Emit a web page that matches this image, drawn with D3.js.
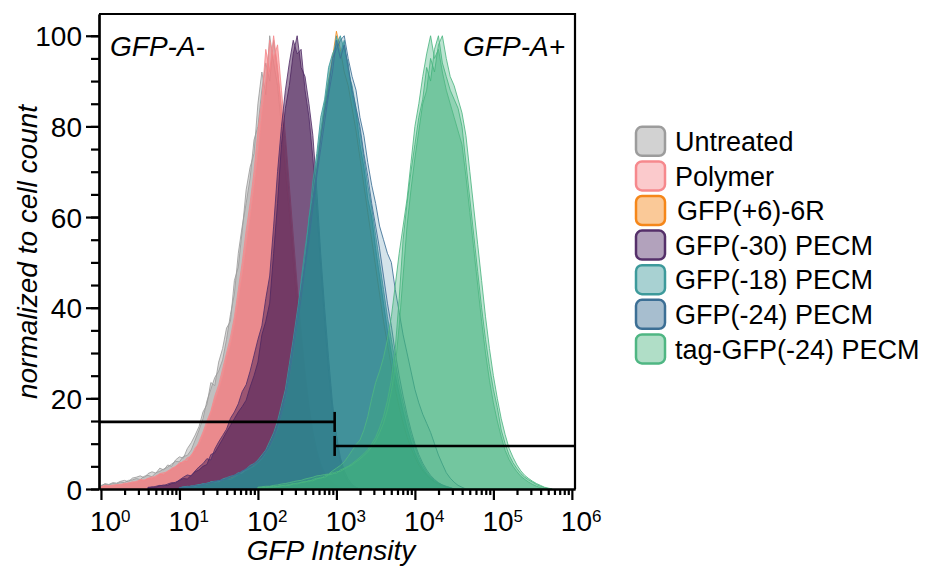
<!DOCTYPE html>
<html><head><meta charset="utf-8">
<script src="https://cdn.jsdelivr.net/npm/d3@7"></script>
<style>
body{margin:0;background:#fff}
text{font-family:"Liberation Sans",Arial,Helvetica,sans-serif;fill:#000}
</style>
</head><body>
<svg id="chart" width="935" height="569"></svg>
<script>
// ---------------- DATA ----------------
const binStep = 0.05; // histogram bin width in log10 units
const categories = ["Untreated","Polymer","GFP(+6)-6R","GFP(-30) PECM","GFP(-18) PECM","GFP(-24) PECM","tag-GFP(-24) PECM"];
const yTicks = [0,20,40,60,80,100];
const xDecades = [0,1,2,3,4,5,6];
const gateLabels = ["GFP-A-","GFP-A+"];
const gateBoundary = 950;
const gateNegLevel = 14.8;
const gatePosLevel = 9.5;

// first bin (log10) for each condition
const untreatedStart = 0.00, polymerStart = 0.00, gfp30Start = 0.60, gfp6Start = 1.00, gfp18Start = 1.00, gfp24Start = 1.00, tagStart = 2.00;

const untreatedA = [0.8,1.0,0.9,1.2,1.1,1.5,1.4,1.9,2.0,2.3,2.1,2.8,3.0,2.7,3.6,3.9,4.4,4.8,5.5,6.1,6.0,7.2,7.4,8.6,10.8,13.0,15.5,19.4,22.0,24.6,26.0,28.5,33.0,38.5,43.0,52.0,58.0,63.0,68.5,77.0,80.0,88.0,94.0,90.0,99.0,92.0,84.0,76.0,64.0,53.0,43.0,34.0,25.0,18.0,12.5,8.5,5.5,3.5,2.2,1.3,0.7,0.3,0];
const untreatedB = [0.6,1.2,1.0,1.4,1.3,1.7,1.9,1.6,2.4,2.6,2.9,2.5,3.4,3.8,3.5,4.6,4.2,5.3,5.0,6.4,7.1,6.8,8.9,10.2,11.9,13.8,17.0,18.6,23.5,22.8,28.0,31.0,35.5,37.0,46.0,49.0,57.0,66.0,71.0,74.0,85.0,92.0,87.0,100.0,94.0,89.0,80.0,70.0,61.0,50.0,40.0,31.0,23.0,16.0,11.0,7.5,4.8,3.0,1.8,1.0,0.5,0.2,0];
const polymerA = [0.5,0.7,0.6,0.9,0.8,1.1,1.0,1.4,1.3,1.7,1.9,1.8,2.4,2.2,2.9,3.3,3.1,4.0,4.3,5.0,5.4,6.2,6.0,7.6,8.4,10.5,12.6,15.0,17.2,20.5,23.0,26.5,30.0,33.5,38.0,44.0,50.0,57.0,63.0,70.0,79.0,86.0,97.0,92.0,100.0,93.0,83.0,72.0,62.0,52.0,42.0,32.0,23.5,16.5,11.0,7.0,4.3,2.6,1.5,0.8,0.4,0];
const polymerB = [0.4,0.8,0.7,0.7,1.0,0.9,1.3,1.2,1.6,1.5,2.1,2.0,2.3,2.7,2.6,3.4,3.6,3.8,4.6,4.9,5.8,5.9,6.9,7.2,9.1,10.0,12.0,14.2,16.8,19.5,22.0,25.0,29.0,32.0,36.5,42.0,47.5,54.0,60.0,67.0,74.0,83.0,90.0,99.0,95.0,98.0,88.0,78.0,67.0,56.0,45.0,35.0,26.0,18.5,12.5,8.0,5.0,3.0,1.7,0.9,0.4,0];
const gfp30A = [0.3,0.5,0.4,0.7,0.9,0.8,1.2,1.5,1.9,2.3,2.2,3.0,3.8,4.2,5.0,5.4,7.6,8.0,9.5,11.0,12.6,14.0,15.5,17.0,18.2,19.6,22.5,25.0,28.0,34.0,37.0,41.0,52.0,63.0,76.0,84.0,89.0,96.0,100.0,93.0,91.0,85.0,78.0,66.0,52.0,40.0,29.0,19.0,12.0,7.0,4.0,2.2,1.0,0.4,0];
const gfp30B = [0.4,0.3,0.6,0.8,0.7,1.1,1.4,1.3,2.0,2.6,3.1,2.9,4.0,4.9,5.6,6.7,6.4,8.8,10.4,11.8,13.2,15.6,17.0,18.8,21.5,23.0,26.0,29.5,33.0,36.0,42.0,47.0,58.0,70.0,80.0,88.0,94.0,99.0,96.0,97.0,88.0,82.0,73.0,62.0,49.0,37.0,26.0,17.0,10.5,6.0,3.2,1.6,0.7,0.3,0];
const gfp6R = [0.2,0.3,0.5,0.5,0.7,0.8,1.0,1.1,1.3,1.5,1.7,1.9,2.2,2.5,2.8,3.2,3.7,4.2,4.7,5.3,6.0,6.8,7.9,9.2,11.0,13.4,16.5,20.0,25.0,30.0,36.0,43.0,50.0,57.0,64.0,71.0,78.0,84.0,90.0,95.0,101.0,97.0,92.0,89.0,84.0,79.0,73.0,67.0,61.0,55.0,49.0,43.0,37.0,32.0,27.0,22.0,18.0,14.5,11.5,9.0,7.0,5.3,4.0,3.0,2.2,1.5,1.0,0.6,0.3,0];
const gfp18A = [0.3,0.4,0.6,0.5,0.8,1.0,0.9,1.3,1.5,1.4,1.8,2.0,2.3,2.1,2.6,3.2,3.9,4.1,4.6,5.0,5.8,6.6,8.0,9.5,11.6,13.2,17.0,20.0,26.0,31.0,37.0,46.0,53.0,59.0,68.0,74.0,82.0,86.0,93.0,96.0,98.0,100.0,97.0,94.0,87.0,83.0,76.0,71.0,64.0,60.0,53.0,47.0,41.0,35.0,30.0,25.0,21.0,17.0,13.5,10.5,8.0,6.0,4.5,3.3,2.4,1.7,1.2,0.8,0.5,0.3,0];
const gfp18B = [0.2,0.5,0.4,0.7,0.6,0.9,1.2,1.1,1.6,1.7,1.6,2.2,2.5,2.8,3.0,3.6,3.5,4.4,5.2,5.6,6.4,7.5,8.6,10.5,12.4,15.0,18.5,22.0,27.5,33.0,39.0,45.0,51.0,60.0,65.0,72.0,79.0,85.0,90.0,94.0,100.0,96.0,99.0,92.0,89.0,84.0,79.0,73.0,67.0,62.0,56.0,50.0,44.0,38.0,33.0,28.0,23.0,19.0,15.5,12.0,9.5,7.0,5.2,3.8,2.7,1.9,1.3,0.9,0.6,0.3,0];
const gfp24A = [0.3,0.3,0.5,0.6,0.8,0.7,1.1,1.2,1.4,1.7,1.9,1.8,2.4,2.7,2.9,3.4,4.0,4.3,4.9,5.5,6.2,7.0,8.4,9.8,11.8,14.2,17.5,21.0,26.5,32.0,38.0,44.0,50.0,57.0,64.0,70.0,77.0,83.0,88.0,95.0,97.0,99.0,100.0,95.0,91.0,88.0,82.0,78.0,72.0,67.0,63.0,58.0,55.0,52.0,50.0,44.0,39.0,34.0,30.0,26.0,22.0,19.0,16.5,14.5,12.5,10.0,7.5,5.5,3.6,2.4,1.5,0.8,0.4,0];
const gfp24B = [0.2,0.4,0.4,0.5,0.7,0.9,0.8,1.2,1.3,1.6,1.8,2.1,2.2,2.6,3.1,3.3,3.8,4.5,4.8,5.4,6.0,6.9,8.1,9.4,11.2,13.6,16.5,20.0,25.0,30.5,36.0,42.0,49.0,55.0,62.0,69.0,75.0,81.0,87.0,92.0,99.0,95.0,98.0,93.0,88.0,84.0,80.0,74.0,69.0,63.0,58.0,53.0,47.0,41.0,36.0,30.0,25.0,20.5,16.5,13.0,10.0,7.6,5.7,4.2,3.0,2.1,1.4,0.9,0.5,0.3,0];
const tagA = [0.2,0.3,0.3,0.5,0.4,0.6,0.8,0.7,1.0,1.2,1.1,1.5,1.7,1.6,2.1,2.4,2.3,2.9,3.2,3.6,3.4,4.2,4.6,5.0,5.6,6.3,7.0,7.8,8.7,10.0,11.4,13.5,16.0,19.5,24.0,31.0,42.0,55.0,63.0,70.0,76.0,82.0,86.0,93.0,90.0,97.0,100.0,94.0,91.0,88.0,86.0,84.0,80.0,72.0,64.0,56.0,48.0,40.0,33.0,27.0,22.0,18.0,13.0,10.0,7.5,5.8,4.5,3.4,2.6,2.0,1.5,1.0,0.6,0.3,0];
const tagB = [0.3,0.2,0.4,0.4,0.6,0.5,0.7,0.9,0.8,1.1,1.3,1.4,1.5,1.9,1.8,2.2,2.6,2.5,3.1,3.3,3.8,3.9,4.4,4.9,5.3,6.0,6.6,7.4,8.2,9.3,10.6,12.4,14.5,17.5,21.5,27.0,36.0,47.0,58.0,66.0,73.0,79.0,85.0,88.0,95.0,92.0,98.0,100.0,95.0,91.0,89.0,86.0,83.0,78.0,70.0,62.0,54.0,46.0,38.0,31.0,25.0,20.0,15.5,12.0,9.0,7.0,5.3,4.0,3.0,2.3,1.7,1.2,0.8,0.4,0.2,0];
const tagC = [0.4,0.5,0.6,0.6,0.8,0.9,1.1,1.2,1.4,1.6,1.8,1.9,2.2,2.4,2.6,2.9,3.0,3.2,3.3,4.0,4.6,5.2,6.0,7.2,8.5,9.8,10.8,13.0,16.0,20.0,23.5,26.0,29.0,33.0,38.0,45.0,52.0,58.0,64.0,72.0,80.0,85.0,91.0,96.0,100.0,95.0,97.0,92.0,88.0,85.0,82.0,79.0,76.0,69.0,61.0,53.0,45.0,37.0,30.0,24.0,19.0,15.0,11.5,8.5,6.5,5.0,3.8,2.8,2.1,1.5,1.0,0.6,0.3,0];

// ---------------- STYLES ----------------
const style = {
  "Untreated":        {stroke:"#9c9c9c", fill:"#9e9e9e", op:0.40},
  "Polymer":          {stroke:"#f6898d", fill:"#f47c80", op:0.55},
  "GFP(+6)-6R":       {stroke:"#f5871a", fill:"#f7a85a", op:0.20},
  "GFP(-30) PECM":    {stroke:"#55306a", fill:"#4b1f57", op:0.50},
  "GFP(-18) PECM":    {stroke:"#3d9a9b", fill:"#178a86", op:0.55},
  "GFP(-24) PECM":    {stroke:"#3c6f95", fill:"#3a7ea0", op:0.22},
  "tag-GFP(-24) PECM":{stroke:"#4fb683", fill:"#3fb27a", op:0.35}
};

const drawOrder = [
  {name:"Untreated", start:untreatedStart, reps:[untreatedA, untreatedB]},
  {name:"Polymer", start:polymerStart, reps:[polymerA, polymerB]},
  {name:"GFP(-30) PECM", start:gfp30Start, reps:[gfp30A, gfp30B]},
  {name:"GFP(+6)-6R", start:gfp6Start, reps:[gfp6R]},
  {name:"GFP(-18) PECM", start:gfp18Start, reps:[gfp18A, gfp18B]},
  {name:"GFP(-24) PECM", start:gfp24Start, reps:[gfp24A, gfp24B]},
  {name:"tag-GFP(-24) PECM", start:tagStart, reps:[tagA, tagB, tagC]}
];

// ---------------- CHART ----------------
const svg = d3.select("#chart");
const x = d3.scaleLog().domain([Math.pow(10,-0.025), Math.pow(10,6.04)]).range([99,575]);
const y = d3.scaleLinear().domain([0,104.8]).range([489,14]);

const area = d3.area()
  .x(d => x(d.v))
  .y0(y(0))
  .y1(d => y(d.c));

const plot = svg.append("g");
drawOrder.forEach(s => {
  const st = style[s.name];
  s.reps.forEach(arr => {
    const pts = arr.map((c,i) => ({v: Math.pow(10, s.start + i*binStep), c}));
    plot.append("path").datum(pts)
      .attr("d", area)
      .attr("fill", st.fill).attr("fill-opacity", st.op)
      .attr("stroke", st.stroke).attr("stroke-opacity", 0.85)
      .attr("stroke-width", 1).attr("stroke-linejoin","round");
  });
});

// gates
const gates = svg.append("g").attr("stroke","#000").attr("stroke-width",2.6).attr("fill","none");
gates.append("line").attr("x1", x.range()[0]).attr("x2", x(gateBoundary))
  .attr("y1", y(gateNegLevel)).attr("y2", y(gateNegLevel));
gates.append("line").attr("x1", x(gateBoundary)).attr("x2", x(gateBoundary))
  .attr("y1", y(gateNegLevel)-10).attr("y2", y(gateNegLevel)+10);
gates.append("line").attr("x1", x(gateBoundary)).attr("x2", x.range()[1])
  .attr("y1", y(gatePosLevel)).attr("y2", y(gatePosLevel));
gates.append("line").attr("x1", x(gateBoundary)).attr("x2", x(gateBoundary))
  .attr("y1", y(gatePosLevel)-10).attr("y2", y(gatePosLevel)+10);

// frame (top & right)
svg.append("path")
  .attr("d", `M${x.range()[0]},${y.range()[1]}H${x.range()[1]}V${y.range()[0]}`)
  .attr("fill","none").attr("stroke","#000").attr("stroke-width",2.2);

// y axis
const yMinor = svg.append("g").attr("transform",`translate(${x.range()[0]},0)`)
  .call(d3.axisLeft(y).tickValues(d3.range(0,101,5)).tickSize(8).tickSizeOuter(0).tickFormat(""));
const yAxis = svg.append("g").attr("transform",`translate(${x.range()[0]},0)`)
  .call(d3.axisLeft(y).tickValues(yTicks).tickSize(13).tickSizeOuter(0).tickPadding(4));
yAxis.selectAll("text").attr("font-size",28).attr("dy","0.36em");
[yMinor,yAxis].forEach(g => {
  g.selectAll("line,path").attr("stroke","#000").attr("stroke-width",2.2);
});

// x axis
const minors = [];
xDecades.slice(0,-1).forEach(d => { for (let k=2;k<=9;k++) minors.push(k*Math.pow(10,d)); });
const xMinor = svg.append("g").attr("transform",`translate(0,${y.range()[0]})`)
  .call(d3.axisBottom(x).tickValues(minors).tickSize(6).tickSizeOuter(0).tickFormat(""));
const xAxis = svg.append("g").attr("transform",`translate(0,${y.range()[0]})`)
  .call(d3.axisBottom(x).tickValues(xDecades.map(d=>Math.pow(10,d))).tickSize(11).tickSizeOuter(0).tickFormat(""));
[xMinor,xAxis].forEach(g => {
  g.selectAll("line,path").attr("stroke","#000").attr("stroke-width",2.2);
});
xDecades.forEach(d => {
  const t = svg.append("text").attr("x", x(Math.pow(10,d)) - 11).attr("y", 531)
    .attr("font-size",28);
  t.append("tspan").text("10");
  t.append("tspan").attr("font-size",17).attr("dy",-9).text(d);
});

// axis titles
svg.append("text").attr("x",331).attr("y",560).attr("text-anchor","middle")
  .attr("font-size",28).attr("font-style","italic").text("GFP Intensity");
svg.append("text").attr("transform","translate(37,252) rotate(-90)").attr("text-anchor","middle")
  .attr("font-size",28).attr("font-style","italic").text("normalized to cell count");

// gate labels
svg.append("text").attr("x",110).attr("y",56).attr("font-size",28).attr("font-style","italic").text(gateLabels[0]);
svg.append("text").attr("x",565).attr("y",56).attr("text-anchor","end").attr("font-size",28).attr("font-style","italic").text(gateLabels[1]);

// legend
const leg = svg.append("g");
categories.forEach((c,i) => {
  const cy = 141.3 + i*34.6;
  const st = style[c];
  leg.append("rect").attr("x",636).attr("y",cy-14.5).attr("width",29).attr("height",29).attr("rx",6)
    .attr("fill",st.stroke).attr("fill-opacity",0.45)
    .attr("stroke",st.stroke).attr("stroke-width",2.5);
  leg.append("text").attr("x", c==="GFP(+6)-6R" ? 677 : 675).attr("y",cy).attr("dy","0.36em")
    .attr("font-size",27).text(c);
});
</script>
</body></html>
